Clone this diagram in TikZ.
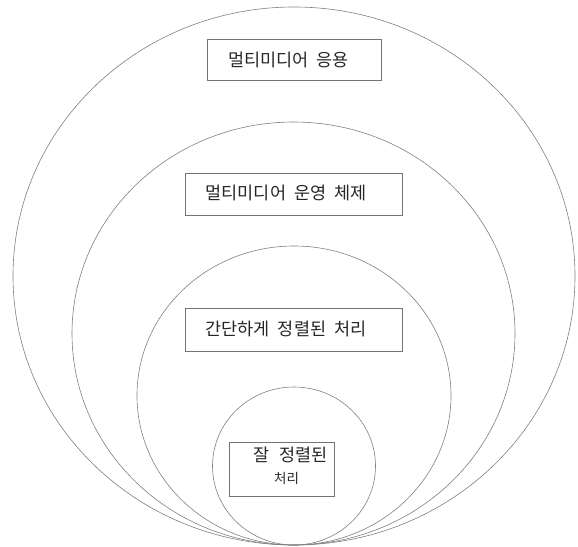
\documentclass[tikz,border=0pt]{standalone}
\usepackage{fontspec}
\newfontfamily\kr{Noto Sans CJK KR}
\newcommand{\gap}{\hspace{0.45em}}
\begin{document}
\begin{tikzpicture}[x=1pt,y=-1pt,
  ring/.style={draw=black!50,line width=0.6pt},
  frame/.style={draw=black!55,line width=0.6pt,inner sep=0pt},
  txt/.style={font=\kr\fontsize{17.5}{20}\selectfont,text=black!85,inner sep=0pt}]
\useasboundingbox[fill=white] (0,0) rectangle (578,546);
\draw[ring] (294,276) ellipse [x radius=281pt, y radius=269pt];
\draw[ring] (293.5,333.5) ellipse [x radius=221.5pt, y radius=211.5pt];
\draw[ring] (294,395.5) ellipse [x radius=157pt, y radius=149.5pt];
\draw[ring] (294,466) ellipse [x radius=81.5pt, y radius=79pt];
\node[frame,minimum width=174pt,minimum height=41pt] (app) at (294,59.5) {};
\node[txt] (appt) at (288.5,59.5) {멀티미디어\gap 응용};
\node[frame,minimum width=217pt,minimum height=42pt] (os) at (293.5,194) {};
\node[txt] (ost) at (286,192.5) {멀티미디어\gap 운영\gap 체제};
\node[frame,minimum width=217pt,minimum height=43pt] (simple) at (293.5,329.5) {};
\node[txt] (simplet) at (286,328.5) {간단하게\gap 정렬된\gap 처리};
\node[frame,minimum width=105pt,minimum height=54pt] (well) at (281.5,469) {};
\node[txt] (wellt1) at (290.5,455) {잘\hspace{0.6em}정렬된};
\node[txt,font=\kr\fontsize{13.5}{16}\selectfont] (wellt2) at (286.5,478) {처리};
\end{tikzpicture}
\end{document}
